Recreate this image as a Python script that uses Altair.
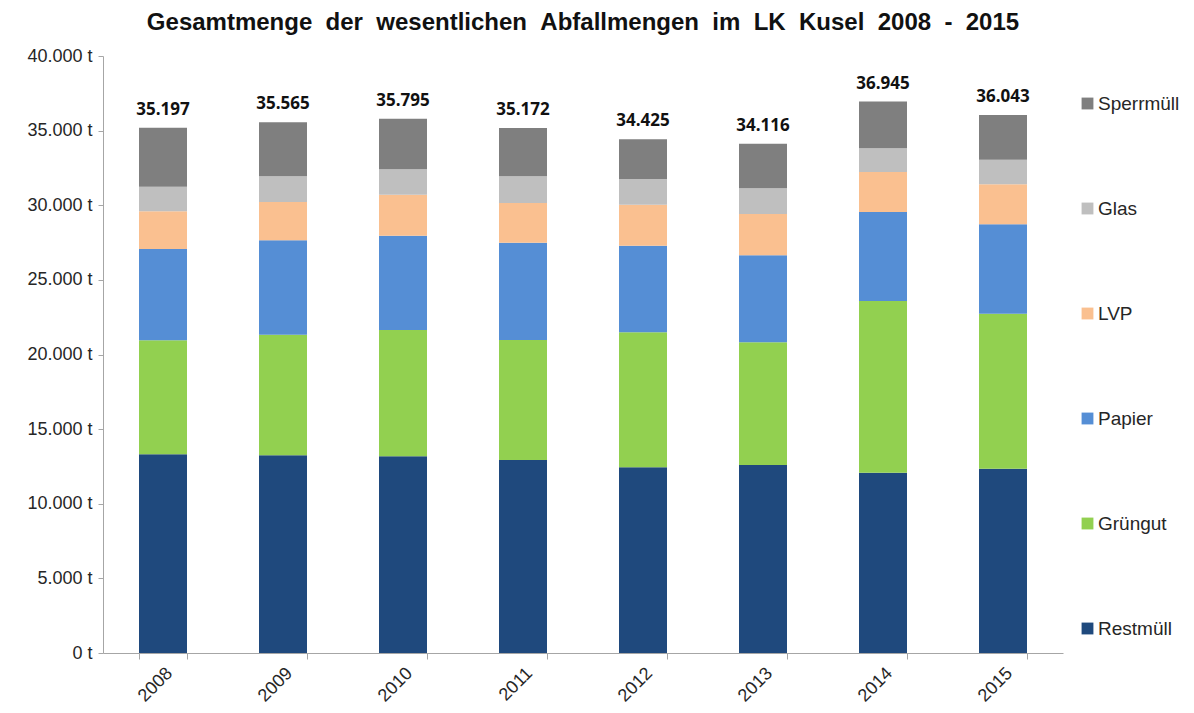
import altair as alt
import pandas as pd

years = ["2008", "2009", "2010", "2011", "2012", "2013", "2014", "2015"]
categories = ["Restmüll", "Grüngut", "Papier", "LVP", "Glas", "Sperrmüll"]
restmuell = [13310, 13250, 13180, 12930, 12440, 12600, 12080, 12350]
gruengut = [7640, 8080, 8460, 8040, 9050, 8220, 11500, 10380]
papier = [6120, 6320, 6320, 6520, 5800, 5830, 5970, 5990]
lvp = [2520, 2570, 2750, 2660, 2750, 2760, 2680, 2680]
glas = [1650, 1720, 1700, 1790, 1720, 1730, 1590, 1650]
totals = [35197, 35565, 35795, 35172, 34425, 34116, 36945, 36043]
sperrmuell = [t - (a + b + c + d + e) for t, a, b, c, d, e in
              zip(totals, restmuell, gruengut, papier, lvp, glas)]
colors = ["#1F497D", "#92D050", "#558ED5", "#FAC090", "#BFBFBF", "#7F7F7F"]

series = [restmuell, gruengut, papier, lvp, glas, sperrmuell]
rows = []
for ci, (cat, vals) in enumerate(zip(categories, series)):
    for y, v in zip(years, vals):
        rows.append({"Jahr": y, "Art": cat, "Menge": v, "ord": ci})
df = pd.DataFrame(rows)

tot_df = pd.DataFrame({
    "Jahr": years,
    "Summe": totals,
    "Label": [f"{t:,}".replace(",", ".") for t in totals],
})

legend_domain = categories[::-1]
legend_range = colors[::-1]

title_words = ["Gesamtmenge", "der", "wesentlichen", "Abfallmengen", "im", "LK", "Kusel", "2008", "-", "2015"]
title_text = " \u00a0".join(title_words)

xenc = alt.X("Jahr:N", title=None,
             scale=alt.Scale(paddingInner=0.6, paddingOuter=0.3),
             axis=alt.Axis(labelAngle=315, labelFontSize=18, labelFont="Liberation Sans",
                           labelColor="#262626", domainColor="#A6A6A6", tickColor="#A6A6A6",
                           tickBand="extent", tickSize=6, labelPadding=5))

bars = alt.Chart(df).mark_bar().encode(
    x=xenc,
    y=alt.Y("Menge:Q", title=None, stack="zero",
            scale=alt.Scale(domain=[0, 40000]),
            axis=alt.Axis(values=list(range(0, 40001, 5000)), grid=False,
                          labelExpr="replace(format(datum.value, ',d'), ',', '.') + ' t'",
                          labelFontSize=18, labelFont="Liberation Sans", labelColor="#262626",
                          domainColor="#A6A6A6", tickColor="#A6A6A6", tickSize=5,
                          labelPadding=6)),
    color=alt.Color("Art:N", scale=alt.Scale(domain=legend_domain, range=legend_range),
                    legend=alt.Legend(title=None, orient="none", legendX=975, legendY=38,
                                      symbolType="square", symbolSize=140, symbolStrokeWidth=0,
                                      labelFontSize=19, labelFont="Liberation Sans",
                                      labelColor="#262626", rowPadding=85, labelOffset=1)),
    order=alt.Order("ord:Q", sort="ascending"),
)

labels = alt.Chart(tot_df).mark_text(
    baseline="alphabetic", dy=-13, fontSize=17, fontWeight="bold",
    font="Open Sans", color="#111111"
).encode(
    x=alt.X("Jahr:N"),
    y=alt.Y("Summe:Q"),
    text="Label:N",
)

chart = alt.layer(bars, labels).properties(
    width=960, height=597,
    title=alt.TitleParams(title_text,
                          fontSize=24, font="Liberation Sans", fontWeight="bold",
                          color="#111111", anchor="middle", offset=12),
    padding={"left": 18, "top": 3, "right": 5, "bottom": 5},
).configure_view(stroke=None)

chart.save("out.html", embed_options={"renderer": "svg", "actions": False})
